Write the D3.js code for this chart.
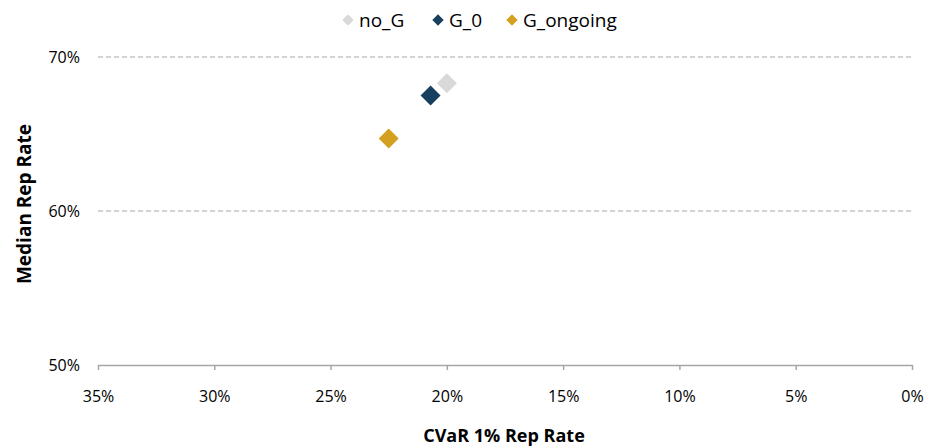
<!DOCTYPE html>
<html>
<head>
<meta charset="utf-8">
<script src="https://cdn.jsdelivr.net/npm/d3@7"></script>
<style>
  body { margin: 0; background: #fff; }
  text { font-family: "Open Sans", sans-serif; fill: #000; }
</style>
</head>
<body>
<div id="chart"></div>
<script>
// series
var seriesNames = ['no_G', 'G_0', 'G_ongoing'];
var seriesColors = ['#d9d9d9', '#17405e', '#d4a020'];
var cvarValues = [0.200, 0.207, 0.225];
var medianValues = [0.683, 0.675, 0.647];

// axes
var xTicks = [0.35, 0.30, 0.25, 0.20, 0.15, 0.10, 0.05, 0];
var yTicks = [0.50, 0.60, 0.70];

var width = 928, height = 448;
var margin = {top: 57, right: 16, bottom: 83, left: 98};
var font = '"Open Sans", sans-serif';

var svg = d3.select('#chart').append('svg')
  .attr('width', width)
  .attr('height', height);

var x = d3.scaleLinear().domain([0.35, 0]).range([margin.left, width - margin.right]);
var y = d3.scaleLinear().domain([0.50, 0.70]).range([height - margin.bottom, margin.top]);

// gridlines
svg.append('g').selectAll('line')
  .data(yTicks.filter(function(d){ return d > 0.5; }))
  .enter().append('line')
  .attr('x1', x(0.35)).attr('x2', x(0))
  .attr('y1', function(d){ return y(d); })
  .attr('y2', function(d){ return y(d); })
  .attr('stroke', '#a6a6a6')
  .attr('stroke-width', 1)
  .attr('stroke-dasharray', '5,3');

// x axis
var xAxis = svg.append('g')
  .attr('transform', 'translate(0,' + y(0.5) + ')')
  .call(d3.axisBottom(x).tickValues(xTicks).tickFormat(d3.format('.0%')).tickSize(5).tickPadding(21).tickSizeOuter(0));
xAxis.select('.domain').attr('stroke', '#a6a6a6').attr('stroke-width', 1.5);
xAxis.selectAll('.tick line').attr('stroke', '#a6a6a6').attr('stroke-width', 1.5);
xAxis.selectAll('.tick text').style('font-size', '16px').attr('fill', '#000')
  .style('font-family', font);

// y axis labels
var yAxis = svg.append('g')
  .attr('transform', 'translate(' + margin.left + ',0)')
  .call(d3.axisLeft(y).tickValues(yTicks).tickFormat(d3.format('.0%')).tickSize(0).tickPadding(18));
yAxis.select('.domain').remove();
yAxis.selectAll('.tick text').style('font-size', '16px').attr('fill', '#000')
  .style('font-family', font);

// axis titles
svg.append('text')
  .attr('x', 504).attr('y', 442)
  .attr('text-anchor', 'middle')
  .style('font-size', '18px').style('font-weight', 'bold')
  .text('CVaR 1% Rep Rate');

svg.append('text')
  .attr('transform', 'translate(31,' + 204 + ') rotate(-90)')
  .attr('text-anchor', 'middle')
  .style('font-size', '19px').style('font-weight', 'bold')
  .text('Median Rep Rate');

// points
var pts = seriesNames.map(function(n, i){
  return {name: n, color: seriesColors[i], cx: cvarValues[i], my: medianValues[i]};
});
var diamond = d3.symbol().type(d3.symbolSquare).size(200);
svg.append('g').selectAll('path')
  .data(pts)
  .enter().append('path')
  .attr('d', diamond)
  .attr('transform', function(d){ return 'translate(' + x(d.cx) + ',' + y(d.my) + ') rotate(45)'; })
  .attr('fill', function(d){ return d.color; });

// legend
var legendX = [348, 438, 512];
var legend = svg.append('g').selectAll('g')
  .data(pts)
  .enter().append('g')
  .attr('transform', function(d, i){ return 'translate(' + legendX[i] + ',20)'; });
legend.append('path')
  .attr('d', d3.symbol().type(d3.symbolSquare).size(64))
  .attr('transform', 'rotate(45)')
  .attr('fill', function(d){ return d.color; });
legend.append('text')
  .attr('x', 11).attr('y', 7)
  .style('font-size', '19px')
  .text(function(d){ return d.name; });
</script>
</body>
</html>
